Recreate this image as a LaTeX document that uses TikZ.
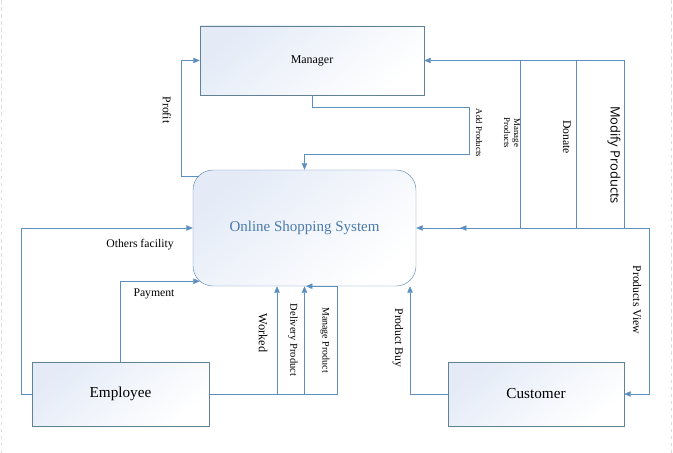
\documentclass[tikz,border=0pt]{standalone}
\usepackage{fontspec}
\setmainfont{Liberation Serif}
\newfontfamily\uisans{Open Sans}
\usetikzlibrary{arrows.meta, calc}

\definecolor{flowblue}{RGB}{92,142,192}
\definecolor{edgegray}{RGB}{98,130,148}
\definecolor{sysedge}{RGB}{104,142,186}
\definecolor{systext}{RGB}{74,122,172}
\definecolor{boxtint}{RGB}{228,235,247}

\begin{document}
\begin{tikzpicture}[x=0.03cm, y=0.03cm,
    entbox/.style={draw=edgegray, rectangle, left color=boxtint, right color=white,
                   shading angle=40, align=center, font=\fontsize{13}{15}\selectfont,
                   minimum height=1.92cm},
    sysbox/.style={draw=sysedge, rectangle, rounded corners=0.6cm, left color=boxtint,
                   right color=white, shading angle=40, text=systext,
                   font=\fontsize{12.8}{15}\selectfont,
                   minimum width=6.69cm, minimum height=3.48cm},
    flow/.style={draw=flowblue, -{Triangle[length=5.5pt, width=4.6pt]}},
    plain/.style={draw=flowblue},
    lbl/.style={font=\fontsize{10}{12}\selectfont, inner sep=1pt},
    vlbl/.style={lbl, rotate=-90, align=center}
]
    \useasboundingbox (0,0) rectangle (673,-453);
    \draw[black!12, dashed] (1,0) -- (1,-453);
    \draw[black!14, dashed] (671.5,0) -- (671.5,-453);

    % --- Entities ---
    \node[entbox, minimum width=6.72cm, minimum height=2.07cm,
          font=\fontsize{10.2}{12}\selectfont] (mgr) at (312,-60.5) {Manager};
    \node[sysbox] (sys) at (304.5,-228) {Online Shopping System};
    \node[entbox, minimum width=5.31cm] (emp) at (120.5,-394) {Employee};
    \node[entbox, minimum width=5.28cm] (cust) at (536,-394) {Customer};

    % --- Manager flows ---
    \draw[flow] ([shift={(6,-6)}]sys.north west) -- ++(-18,0) |- (mgr.west);
    \node[vlbl] (lprofit) at (167,-110) {Profit};
    \draw[flow] (mgr.south) -- ++(0,-12) -- ++(157,0) -- ++(0,-47) -| (sys.north);
    \node[vlbl, font=\fontsize{7.5}{8}\selectfont] (ladd) at (479,-133) {Add Products};

    % --- right hand flows ---
    \coordinate (pv) at (649,-228);
    \coordinate (mp) at (520,-228);
    \coordinate (dn) at (576,-228);
    \coordinate (mf) at (624,-228);
    \draw[flow] (pv) -- (sys.east);
    \draw[flow] (mp) -- ++(-60,0);
    \draw[flow] (pv) |- (cust.east);
    \draw[plain] (mp) -- (mp |- mgr.east);
    \draw[plain] (dn) -- (dn |- mgr.east);
    \draw[flow] (mf) |- (mgr.east);
    \node[vlbl, font=\fontsize{7.5}{8.5}\selectfont] (lmps) at (512,-133) {Manage\\Products};
    \node[vlbl] (ldon) at (567,-137) {Donate};
    \node[vlbl, font=\uisans\fontsize{11}{13}\selectfont] (lmod) at (614,-155) {Modify Products};
    \node[vlbl] (lview) at (637,-300) {Products View};

    % --- Employee flows ---
    \draw[flow] (emp.west) -- ++(-11,0) |- (sys.west);
    \node[lbl] (loth) at (140,-245) {Others facility};
    \draw[flow] (emp.north) |- ([shift={(7,5)}]sys.south west);
    \node[lbl] (lpay) at (154,-294) {Payment};
    \draw[flow] (emp.east) -| ([shift={(32.5,0)}]sys.south) -- ([shift={(1.5,0)}]sys.south);
    \coordinate (wk) at (277,-394);
    \coordinate (dp) at (304.5,-394);
    \draw[flow] (wk) -- (wk |- sys.south);
    \draw[flow] (dp) -- (sys.south);
    \node[vlbl, font=\fontsize{10.5}{12}\selectfont] (lwork) at (263,-333) {Worked};
    \node[vlbl, font=\fontsize{9}{11}\selectfont] (ldel) at (293,-340) {Delivery Product};
    \node[vlbl, font=\fontsize{8.5}{10}\selectfont] (lmpr) at (325,-340) {Manage Product};

    % --- Customer flow ---
    \draw[flow] (cust.west) -| ([shift={(105.5,0)}]sys.south);
    \node[vlbl] (lbuy) at (398,-338) {Product Buy};
\end{tikzpicture}
\end{document}
